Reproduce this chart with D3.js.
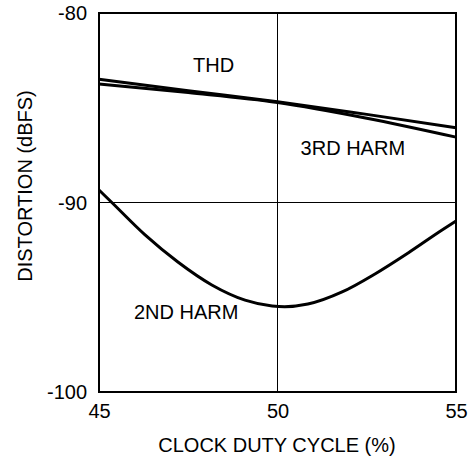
<!DOCTYPE html>
<html><head><meta charset="utf-8">
<script src="https://cdn.jsdelivr.net/npm/d3@7"></script>
<style>body{margin:0;background:#fff}text{font-family:"Liberation Sans",Arial,sans-serif;fill:#000}</style>
</head><body><svg id="c" width="474" height="458"></svg>
<script>
const xTicks = [45, 50, 55];
const yTicks = [-80, -90, -100];
const thdX = [45, 47.5, 50, 52.5, 55];
const thdY = [-83.5, -84.1, -84.68, -85.35, -86.05];
const h3X = [45, 47.5, 50, 52.5, 55];
const h3Y = [-83.75, -84.2, -84.72, -85.55, -86.55];
const h2X = [45, 45.36, 46.29, 47.21, 48.16, 49.09, 49.85, 50.2, 50.85, 51.81, 52.73, 53.66, 54.61, 55];
const h2Y = [-89.34, -90, -91.71, -93.14, -94.35, -95.15, -95.46, -95.5, -95.36, -94.72, -93.77, -92.66, -91.45, -90.98];
const labels = [
  {t: "THD", x: 48.21, y: -83.11},
  {t: "3RD HARM", x: 52.11, y: -87.49},
  {t: "2ND HARM", x: 47.44, y: -96.15}
];

const svg = d3.select("#c");
const x = d3.scaleLinear().domain([45, 55]).range([99, 456]);
const y = d3.scaleLinear().domain([-100, -80]).range([392, 13]);

// gridlines
svg.append("line").attr("x1", x(50)).attr("x2", x(50)).attr("y1", y(-80)).attr("y2", y(-100)).attr("stroke", "#000").attr("stroke-width", 1);
svg.append("line").attr("x1", x(45)).attr("x2", x(55)).attr("y1", y(-90)).attr("y2", y(-90)).attr("stroke", "#000").attr("stroke-width", 1);

// frame
svg.append("rect").attr("x", x(45)).attr("y", y(-80)).attr("width", x(55) - x(45)).attr("height", y(-100) - y(-80))
  .attr("fill", "none").attr("stroke", "#000").attr("stroke-width", 2);

const xAxis = svg.append("g").attr("transform", `translate(0,${y(-100)})`)
  .call(d3.axisBottom(x).tickValues(xTicks).tickSize(0).tickPadding(26).tickFormat(d => String(d)));
xAxis.select(".domain").remove();
xAxis.selectAll("text").attr("font-size", 20).attr("font-family", "Liberation Sans, Arial, sans-serif").attr("dy", 0);

const yAxis = svg.append("g").attr("transform", `translate(${x(45)},0)`)
  .call(d3.axisLeft(y).tickValues(yTicks).tickSize(0).tickPadding(12).tickFormat(d => String(d)));
yAxis.select(".domain").remove();
yAxis.selectAll("text").attr("font-size", 20).attr("font-family", "Liberation Sans, Arial, sans-serif").attr("dy", "0.34em");

const line = d3.line().curve(d3.curveMonotoneX);
function draw(xs, ys) {
  svg.append("path").attr("d", line(xs.map((v, i) => [x(v), y(ys[i])])))
    .attr("fill", "none").attr("stroke", "#000").attr("stroke-width", 3);
}
draw(thdX, thdY);
draw(h3X, h3Y);
draw(h2X, h2Y);

labels.forEach(l => {
  svg.append("text").attr("x", x(l.x)).attr("y", y(l.y)).attr("text-anchor", "middle").attr("font-size", 20).text(l.t);
});

svg.append("text").attr("x", 277).attr("y", 452).attr("text-anchor", "middle").attr("font-size", 20).text("CLOCK DUTY CYCLE (%)");
svg.append("text").attr("transform", "translate(32,186) rotate(-90)").attr("text-anchor", "middle").attr("font-size", 20).text("DISTORTION (dBFS)");
</script></body></html>
